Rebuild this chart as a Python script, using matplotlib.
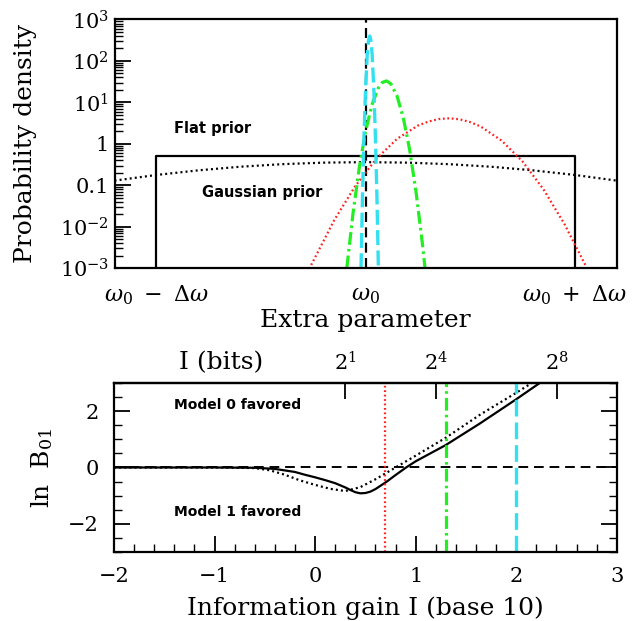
import numpy as np
import matplotlib
matplotlib.use('Agg')
import matplotlib.pyplot as plt
from matplotlib.ticker import FixedLocator, FixedFormatter, NullFormatter, NullLocator, MultipleLocator, LogLocator

plt.rcParams['font.family'] = 'DejaVu Serif'
plt.rcParams['mathtext.fontset'] = 'dejavuserif'
plt.rcParams['axes.linewidth'] = 1.6

# Data - top panel (x in units of delta omega, centred on omega_0)
flat_prior_x = [-1.0, -1.0, 1.0, 1.0]
flat_prior_y = [1e-3, 0.5, 0.5, 1e-3]

gauss_prior_x = [-1.2, -1.0, -0.8, -0.6, -0.4, -0.2, 0.0, 0.2, 0.4, 0.6, 0.8, 1.0, 1.2]
gauss_prior_y = [0.130, 0.178, 0.230, 0.281, 0.324, 0.353, 0.363, 0.353, 0.324, 0.281, 0.230, 0.178, 0.130]

red_x = [-0.26, -0.15, -0.05, 0.05, 0.15, 0.25, 0.30, 0.35, 0.40, 0.45, 0.50, 0.55, 0.65, 0.75, 0.85, 0.95, 1.05]
red_y = [1.2e-3, 0.0145, 0.095, 0.43, 1.32, 2.77, 3.45, 3.98, 4.14, 3.91, 3.35, 2.62, 1.20, 0.376, 0.080, 0.0117, 1.2e-3]

green_x = [-0.09, -0.06, -0.03, 0.0, 0.03, 0.06, 0.08, 0.10, 0.12, 0.15, 0.18, 0.21, 0.24, 0.27, 0.284]
green_y = [1e-3, 0.0216, 0.273, 2.01, 8.7, 22, 30.4, 33, 28.3, 14.4, 4.27, 0.74, 0.0755, 0.0045, 1e-3]

cyan_x = [-0.022, -0.015, -0.008, 0.0, 0.008, 0.014, 0.0195, 0.025, 0.031, 0.039, 0.047, 0.054, 0.061]
cyan_y = [1e-3, 0.054, 1.38, 23, 148, 318, 400, 318, 148, 23, 1.38, 0.054, 1e-3]

ytick_vals = [1e-3, 1e-2, 0.1, 1, 10, 100, 1000]
ytick_labels = ['$10^{-3}$', '$10^{-2}$', '0.1', '1', '$10^1$', '$10^2$', '$10^3$']
xtick_vals = [-1, 0, 1]
xtick_labels = [r'$\omega_0\ -\ \Delta\omega$', r'$\omega_0$', r'$\omega_0\ +\ \Delta\omega$']

# Data - bottom panel
info_flat_x = [-2.0, -1.0, -0.6, -0.4, -0.2, -0.1, 0.0, 0.1, 0.2, 0.3, 0.35, 0.40, 0.45, 0.50, 0.55, 0.6, 0.71, 0.8, 0.905, 1.0, 1.3, 1.64, 2.0, 2.23]
lnb_flat = [0.0, 0.0, -0.01, -0.05, -0.16, -0.26, -0.35, -0.45, -0.56, -0.71, -0.80, -0.88, -0.92, -0.91, -0.86, -0.77, -0.51, -0.27, 0.0, 0.22, 0.8, 1.57, 2.43, 3.0]

info_gauss_x = [-2.0, -1.0, -0.6, -0.45, -0.3, -0.15, 0.0, 0.15, 0.3, 0.45, 0.6, 0.8, 1.0, 1.3, 1.64, 2.0, 2.15]
lnb_gauss = [0.0, 0.0, -0.02, -0.1, -0.26, -0.46, -0.62, -0.76, -0.84, -0.70, -0.42, 0.0, 0.42, 1.06, 1.88, 2.66, 3.0]

info_lines = [0.70, 1.30, 2.00]
bits_ticks = [2, 16, 256]
bits_labels = ['$2^1$', '$2^4$', '$2^8$']

red = '#ff2020'
green = '#22ee22'
cyan = '#33e0f0'

fig = plt.figure(figsize=(6.33, 6.21), dpi=100)

# ---------------- top panel ----------------
ax = fig.add_axes([0.1809, 0.5680, 0.7934, 0.4006])
ax.set_yscale('log')
ax.set_xlim(-1.2, 1.2)
ax.set_ylim(1e-3, 1e3)

ax.plot(flat_prior_x, flat_prior_y, color='black', lw=1.6)
ax.plot(gauss_prior_x, gauss_prior_y, color='black', lw=1.6, linestyle=(0, (0.9, 1.4)))
ax.axvline(0, color='black', lw=1.6, linestyle=(0, (4.5, 2.4)))
ax.plot(red_x, red_y, color=red, lw=1.6, linestyle=(0, (0.8, 1.2)))
ax.plot(green_x, green_y, color=green, lw=2.3, linestyle=(0, (4, 1.3, 0.8, 1.3)))
ax.plot(cyan_x, cyan_y, color=cyan, lw=2.4, linestyle=(0, (4.5, 1.6)))

ax.text(-0.915, 2.35, 'Flat prior', family='DejaVu Sans', weight='bold', fontsize=10.5, va='center')
ax.text(-0.78, 0.069, 'Gaussian prior', family='DejaVu Sans', weight='bold', fontsize=10.5, va='center')

ax.yaxis.set_major_locator(FixedLocator(ytick_vals))
ax.yaxis.set_major_formatter(FixedFormatter(ytick_labels))
ax.yaxis.set_minor_locator(LogLocator(base=10, subs=np.arange(2, 10)))
ax.yaxis.set_minor_formatter(NullFormatter())
ax.tick_params(axis='y', which='major', direction='in', length=11.5, width=1.3, labelsize=15, pad=4)
ax.tick_params(axis='y', which='minor', direction='in', length=5.5, width=1.0)
ax.set_xticks(xtick_vals)
ax.set_xticklabels(xtick_labels)
ax.tick_params(axis='x', which='both', length=0, labelsize=16, pad=11)
ax.set_ylabel('Probability density', fontsize=18)
ax.yaxis.set_label_coords(-0.154, 0.5)
ax.set_xlabel('Extra parameter', fontsize=18)
ax.xaxis.set_label_coords(0.5, -0.165)

# ---------------- bottom panel ----------------
bx = fig.add_axes([0.1801, 0.1116, 0.7942, 0.2712])
bx.set_xlim(-2, 3)
bx.set_ylim(-3, 3)

bx.axhline(0, color='black', lw=1.4, linestyle=(0, (5, 3)))
bx.plot(info_flat_x, lnb_flat, color='black', lw=1.6)
bx.plot(info_gauss_x, lnb_gauss, color='black', lw=1.6, linestyle=(0, (0.9, 1.4)))
bx.axvline(info_lines[0], color=red, lw=1.6, linestyle=(0, (0.8, 1.2)))
bx.axvline(info_lines[1], color=green, lw=2.3, linestyle=(0, (4, 1.3, 0.8, 1.3)))
bx.axvline(info_lines[2], color=cyan, lw=2.4, linestyle=(0, (5, 1.8)))

bx.text(-1.40, 2.23, 'Model 0 favored', family='DejaVu Sans', weight='bold', fontsize=10, va='center')
bx.text(-1.40, -1.57, 'Model 1 favored', family='DejaVu Sans', weight='bold', fontsize=10, va='center')

bx.xaxis.set_major_locator(MultipleLocator(1))
bx.xaxis.set_minor_locator(MultipleLocator(0.2))
bx.yaxis.set_major_locator(MultipleLocator(2))
bx.yaxis.set_minor_locator(MultipleLocator(0.5))
bx.tick_params(which='both', direction='in', left=True, right=True, bottom=True, top=False)
bx.tick_params(which='major', length=11.5, width=1.3, labelsize=15)
bx.tick_params(which='minor', length=5.5, width=1.0)
bx.tick_params(axis='x', which='major', pad=11)
bx.tick_params(axis='y', which='major', pad=11)
bx.set_xlabel('Information gain I (base 10)', fontsize=18)
bx.xaxis.set_label_coords(0.5, -0.265)
bx.set_ylabel(r'ln  B$_{01}$', fontsize=18)
bx.yaxis.set_label_coords(-0.117, 0.5)

sec = bx.secondary_xaxis('top', functions=(lambda x: 10 ** x, np.log10))
sec.set_xticks(bits_ticks)
sec.set_xticklabels(bits_labels)
sec.xaxis.set_minor_locator(NullLocator())
sec.tick_params(axis='x', which='major', direction='in', length=11.5, width=1.3, labelsize=15, pad=6)
sec.spines['top'].set_linewidth(1.6)
bx.text(0.214, 1.12, 'I (bits)', transform=bx.transAxes, fontsize=18, ha='center', va='center')

plt.savefig('out.png', dpi=100)
